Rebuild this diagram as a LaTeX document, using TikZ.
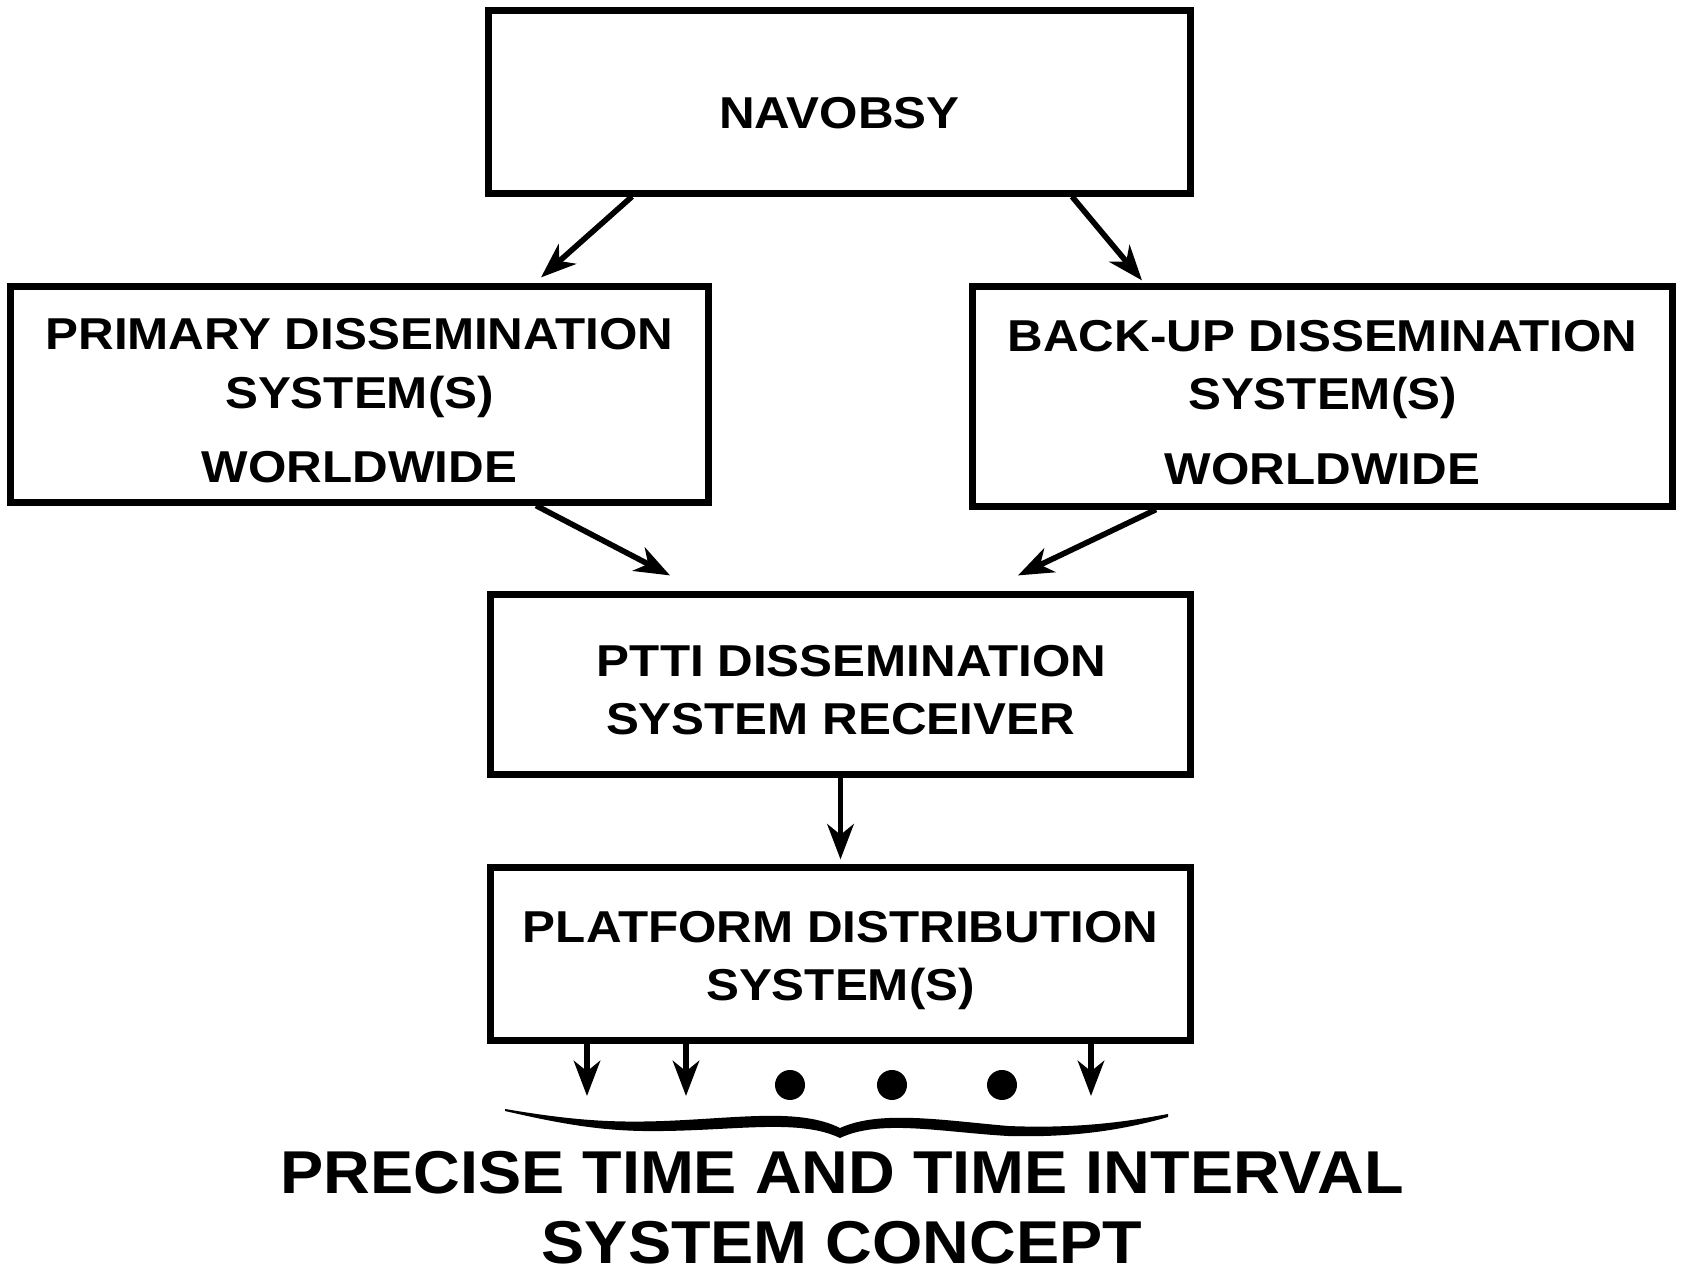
\documentclass[tikz,border=0pt]{standalone}
\usepackage{fontspec}
\setmainfont{Liberation Sans}[FakeStretch=1.07]
\newfontfamily\boxfont{Liberation Sans}[FakeStretch=1.105]
\usepackage{tikz}
\usetikzlibrary{arrows.meta, positioning}
\newcommand{\toppad}[1]{\rule{0pt}{#1}}

\begin{document}
\begin{tikzpicture}[
  x=0.01cm, y=-0.01cm,
  block/.style={rectangle, draw, line width=2pt, align=center, inner sep=0pt,
    font=\boxfont\fontsize{12.7pt}{16.6pt}\selectfont\bfseries},
  arrow/.style={-{Stealth[length=10pt, width=7.5pt, inset=3pt]}, line width=1.6pt},
  dot/.style={circle, fill, inner sep=0pt, minimum width=0.28cm, minimum height=0.3cm}
]
  \useasboundingbox (0,0) rectangle (1681,1274);

  % boxes
  \node[block, minimum width=7.01cm, minimum height=1.82cm] (nav) at (839.5,102)
    {\toppad{0.54cm}NAVOBSY};
  \node[block, minimum width=6.97cm, minimum height=2.15cm] (prim) at (359.5,394.5)
    {\toppad{0.44cm}PRIMARY DISSEMINATION\\SYSTEM(S)\\[4.6pt]WORLDWIDE};
  \node[block, minimum width=6.99cm, minimum height=2.19cm] (back) at (1322.5,396.5)
    {\toppad{0.43cm}BACK-UP DISSEMINATION\\SYSTEM(S)\\[4.6pt]WORLDWIDE};
  \node[block, minimum width=6.99cm, minimum height=1.79cm] (ptti) at (840.5,684.5)
    {\toppad{0.42cm}\hspace*{0.22cm}PTTI DISSEMINATION\\SYSTEM RECEIVER};
  \node[block, minimum width=6.99cm, minimum height=1.72cm] (plat) at (840.5,954)
    {\toppad{0.44cm}PLATFORM DISTRIBUTION\\SYSTEM(S)};

  % connectors
  \draw[arrow] ([shift={(-207.5,0)}]nav.south) -- ([shift={(181.5,-6)}]prim.north);
  \draw[arrow] ([shift={(232.5,0)}]nav.south) -- ([shift={(-180.5,-3)}]back.north);
  \draw[arrow] ([shift={(176.5,0)}]prim.south) -- ([shift={(-170.5,-16)}]ptti.north);
  \draw[arrow] ([shift={(-166.5,0)}]back.south) -- ([shift={(177.5,-16)}]ptti.north);
  \draw[arrow] (ptti.south) -- ([shift={(0,-5)}]plat.north);

  % outputs
  \coordinate (o1) at (587,1096);
  \coordinate (o2) at (686,1096);
  \coordinate (o3) at (1091,1096);
  \draw[arrow] (plat.south -| o1) -- (o1);
  \draw[arrow] (plat.south -| o2) -- (o2);
  \draw[arrow] (plat.south -| o3) -- (o3);
  \node[dot] (d1) at (790,1085) {};
  \node[dot] (d2) at (892,1085) {};
  \node[dot] (d3) at (1002,1085) {};

  % brace
  \fill (505,1109) .. controls (570,1120) and (610,1123) .. (664,1121)
    .. controls (740,1118) and (800,1108) .. (840,1128)
    .. controls (880,1110) and (940,1120) .. (1008,1126)
    .. controls (1080,1129) and (1130,1121) .. (1168,1114)
    -- (1168,1117) .. controls (1130,1128) and (1080,1138) .. (1008,1136)
    .. controls (940,1132) and (880,1119) .. (840,1138)
    .. controls (800,1119) and (740,1130) .. (664,1131)
    .. controls (610,1132) and (570,1126) .. (505,1111) -- cycle;

  \node[align=center, font=\fontsize{17.2pt}{19.8pt}\selectfont\bfseries] (title) at (842,1208)
    {PRECISE TIME AND TIME INTERVAL\\SYSTEM CONCEPT};
\end{tikzpicture}
\end{document}
